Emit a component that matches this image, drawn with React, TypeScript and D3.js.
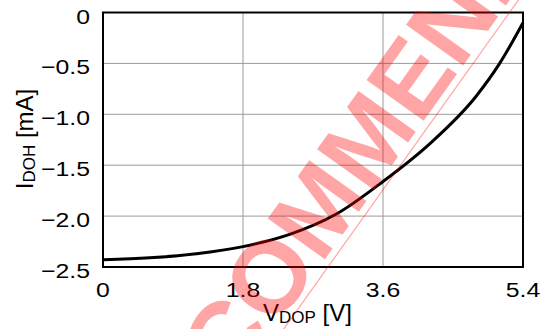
import React from "react";
import * as d3 from "d3";

// ---- data ----
const vdop = [0, 0.6, 1.2, 1.8, 2.4, 3.0, 3.6, 4.2, 4.8, 5.1, 5.4];
const idoh = [-2.43, -2.41, -2.37, -2.3, -2.18, -1.98, -1.66, -1.29, -0.82, -0.5, -0.1];
const xTicks = [0, 1.8, 3.6, 5.4];
const xTickLabels = ["0", "1.8", "3.6", "5.4"];
const yTicks = [0, -0.5, -1.0, -1.5, -2.0, -2.5];
const yTickLabels = ["0", "\u22120.5", "\u22121.0", "\u22121.5", "\u22122.0", "\u22122.5"];
const watermarkBefore = "NOT RE";
const watermarkAfter = "COMMENDED";

const W = 541;
const H = 329;
const PL = 103, PR = 523, PT = 12.5, PB = 267;
const FONT = "'Liberation Sans', Arial, Helvetica, sans-serif";

export default function App() {
  const x = d3.scaleLinear().domain([0, 5.4]).range([PL, PR]);
  const y = d3.scaleLinear().domain([-2.5, 0]).range([PB, PT]);
  const pts = vdop.map((v, i) => [v, idoh[i]] as [number, number]);
  const line = d3
    .line<[number, number]>()
    .x((d) => x(d[0]))
    .y((d) => y(d[1]))
    .curve(d3.curveMonotoneX);

  // watermark geometry
  const ang = 54.5;
  const rad = (ang * Math.PI) / 180;
  const u = [Math.cos(rad), -Math.sin(rad)];
  const n = [-Math.sin(rad), -Math.cos(rad)];
  const L0 = [293, 316];
  const off = 7;
  const sC = -95;
  const bx = L0[0] + off * n[0] + sC * u[0];
  const by = L0[1] + off * n[1] + sC * u[1];
  const lx1 = L0[0] - 400 * u[0], ly1 = L0[1] - 400 * u[1];
  const lx2 = L0[0] + 600 * u[0], ly2 = L0[1] + 600 * u[1];

  const tickScaleX = 1.18;
  const wmSize = 102;

  return (
    <div style={{ position: "fixed", left: 0, top: 0 }}>
      <svg width={W} height={H} style={{ display: "block", background: "#fff" }}>
        {/* grid */}
        {xTicks.slice(1, -1).map((t) => (
          <line key={"gx" + t} x1={x(t)} x2={x(t)} y1={PT} y2={PB} stroke="#9a9a9a" strokeWidth={1} />
        ))}
        {yTicks.slice(1, -1).map((t) => (
          <line key={"gy" + t} x1={PL} x2={PR} y1={y(t)} y2={y(t)} stroke="#9a9a9a" strokeWidth={1} />
        ))}
        {/* curve */}
        <path d={line(pts) || ""} fill="none" stroke="#000" strokeWidth={3} />
        {/* frame */}
        <rect x={PL} y={PT} width={PR - PL} height={PB - PT} fill="none" stroke="#000" strokeWidth={2} />
        {/* y tick labels */}
        {yTicks.map((t, i) => (
          <g key={"yl" + t} transform={`translate(90,${y(t) + 11}) scale(${tickScaleX},1)`}>
            <text x={0} y={0} textAnchor="end" fontFamily={FONT} fontSize={21} fill="#000">
              {yTickLabels[i]}
            </text>
          </g>
        ))}
        {/* x tick labels */}
        {xTicks.map((t, i) => (
          <g key={"xl" + t} transform={`translate(${x(t)},297) scale(${tickScaleX},1)`}>
            <text x={0} y={0} textAnchor="middle" fontFamily={FONT} fontSize={21} fill="#000">
              {xTickLabels[i]}
            </text>
          </g>
        ))}
        {/* x title */}
        <text x={263} y={321} fontFamily={FONT} fontSize={24} fill="#000">
          V<tspan fontSize={17} dy={2}>DOP</tspan>
          <tspan dy={-2}> [V]</tspan>
        </text>
        {/* y title */}
        <text
          transform={`translate(33,139) rotate(-90)`}
          textAnchor="middle"
          fontFamily={FONT}
          fontSize={24}
          fill="#000"
        >
          I<tspan fontSize={17} dy={2}>DOH</tspan>
          <tspan dy={-2}> [mA]</tspan>
        </text>
        {/* watermark */}
        <g opacity={0.35} fill="#ff0000">
          <text
            transform={`translate(${bx},${by}) rotate(${-ang})`}
            textAnchor="end"
            fontFamily={FONT}
            fontWeight="bold"
            fontSize={wmSize}
          >
            {watermarkBefore}
          </text>
          <text
            transform={`translate(${bx},${by}) rotate(${-ang})`}
            textAnchor="start"
            fontFamily={FONT}
            fontWeight="bold"
            fontSize={wmSize}
          >
            {watermarkAfter}
          </text>
          <line x1={lx1} y1={ly1} x2={lx2} y2={ly2} stroke="#ff0000" strokeWidth={1.2} />
        </g>
      </svg>
    </div>
  );
}
